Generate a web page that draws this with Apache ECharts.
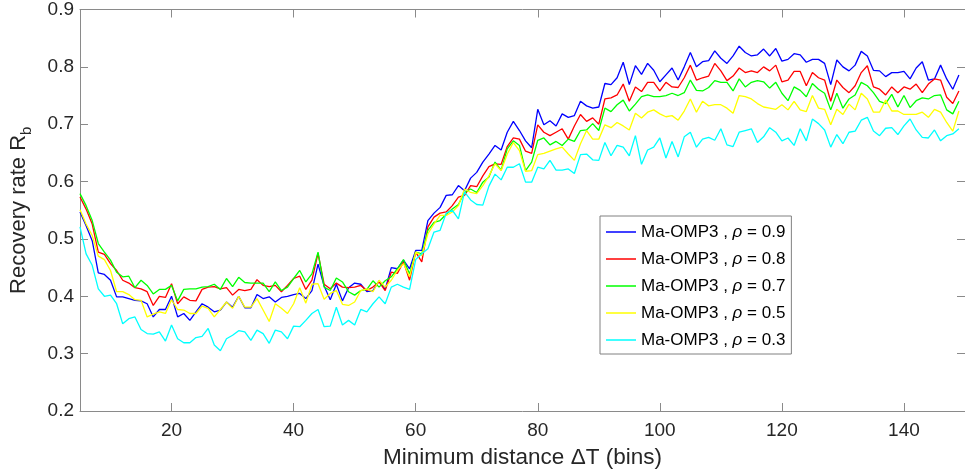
<!DOCTYPE html>
<html>
<head>
<meta charset="utf-8">
<script src="https://cdn.jsdelivr.net/npm/echarts@6/dist/echarts.min.js"></script>
<style>
html,body{margin:0;padding:0;background:#fff;}
#chart{width:965px;height:475px;}
</style>
</head>
<body>
<div id="chart"></div>
<script>
// Minimum distance ΔT (bins)
const xValues = [
  5,6,7,8,9,10,11,12,13,14,
  15,16,17,18,19,20,21,22,23,24,
  25,26,27,28,29,30,31,32,33,34,
  35,36,37,38,39,40,41,42,43,44,
  45,46,47,48,49,50,51,52,53,54,
  55,56,57,58,59,60,61,62,63,64,
  65,66,67,68,69,70,71,72,73,74,
  75,76,77,78,79,80,81,82,83,84,
  85,86,87,88,89,90,91,92,93,94,
  95,96,97,98,99,100,101,102,103,104,
  105,106,107,108,109,110,111,112,113,114,
  115,116,117,118,119,120,121,122,123,124,
  125,126,127,128,129,130,131,132,133,134,
  135,136,137,138,139,140,141,142,143,144,
  145,146,147,148,149
];

const rho09 = [
  0.547,0.523,0.497,0.441,0.438,0.428,0.399,0.399,0.396,0.393,
  0.392,0.387,0.364,0.377,0.377,0.400,0.364,0.370,0.358,0.373,
  0.387,0.381,0.373,0.376,0.390,0.381,0.400,0.380,0.380,0.403,
  0.396,0.399,0.390,0.398,0.400,0.403,0.405,0.396,0.410,0.456,
  0.418,0.394,0.421,0.392,0.415,0.423,0.421,0.408,0.410,0.427,
  0.412,0.450,0.448,0.463,0.448,0.480,0.480,0.532,0.545,0.555,
  0.576,0.577,0.593,0.584,0.606,0.616,0.634,0.648,0.663,0.655,
  0.686,0.705,0.689,0.671,0.659,0.726,0.699,0.706,0.697,0.718,
  0.712,0.715,0.740,0.732,0.728,0.730,0.771,0.769,0.781,0.808,
  0.769,0.802,0.787,0.806,0.794,0.774,0.786,0.798,0.777,0.800,
  0.825,0.800,0.809,0.811,0.828,0.815,0.806,0.819,0.836,0.825,
  0.819,0.821,0.831,0.819,0.832,0.810,0.813,0.823,0.821,0.808,
  0.813,0.813,0.806,0.769,0.812,0.800,0.793,0.803,0.827,0.819,
  0.794,0.793,0.783,0.790,0.790,0.792,0.779,0.798,0.809,0.777,
  0.779,0.803,0.779,0.761,0.786
];

const rho08 = [
  0.573,0.552,0.526,0.477,0.473,0.457,0.445,0.428,0.423,0.415,
  0.413,0.408,0.384,0.400,0.398,0.422,0.387,0.399,0.393,0.392,
  0.412,0.416,0.417,0.413,0.415,0.402,0.412,0.410,0.412,0.429,
  0.419,0.417,0.419,0.408,0.419,0.431,0.435,0.412,0.428,0.475,
  0.421,0.413,0.423,0.416,0.415,0.416,0.419,0.410,0.416,0.425,
  0.410,0.442,0.440,0.460,0.428,0.477,0.460,0.521,0.538,0.545,
  0.547,0.558,0.573,0.576,0.593,0.591,0.610,0.626,0.631,0.630,
  0.661,0.676,0.674,0.653,0.649,0.699,0.686,0.680,0.686,0.692,
  0.674,0.697,0.717,0.705,0.711,0.700,0.744,0.746,0.751,0.770,
  0.740,0.765,0.757,0.773,0.773,0.758,0.773,0.765,0.764,0.781,
  0.803,0.777,0.781,0.784,0.806,0.793,0.776,0.784,0.798,0.790,
  0.793,0.790,0.800,0.793,0.803,0.774,0.777,0.792,0.792,0.767,
  0.790,0.781,0.777,0.740,0.777,0.764,0.755,0.767,0.790,0.802,
  0.765,0.761,0.751,0.765,0.755,0.765,0.761,0.770,0.755,0.770,
  0.779,0.777,0.747,0.736,0.758
];

const rho07 = [
  0.579,0.558,0.532,0.492,0.477,0.463,0.442,0.434,0.435,0.415,
  0.428,0.419,0.404,0.412,0.412,0.419,0.392,0.412,0.413,0.413,
  0.416,0.417,0.421,0.412,0.431,0.417,0.433,0.424,0.423,0.423,
  0.423,0.408,0.425,0.410,0.416,0.431,0.445,0.425,0.439,0.477,
  0.416,0.410,0.432,0.425,0.408,0.402,0.410,0.412,0.427,0.416,
  0.427,0.434,0.448,0.464,0.439,0.477,0.474,0.515,0.529,0.532,
  0.543,0.552,0.560,0.581,0.587,0.581,0.599,0.608,0.634,0.620,
  0.657,0.671,0.663,0.619,0.634,0.672,0.676,0.664,0.670,0.663,
  0.674,0.670,0.689,0.690,0.701,0.689,0.728,0.722,0.734,0.742,
  0.723,0.735,0.748,0.751,0.748,0.748,0.750,0.754,0.750,0.755,
  0.777,0.759,0.758,0.764,0.776,0.773,0.773,0.758,0.779,0.765,
  0.773,0.776,0.774,0.763,0.773,0.754,0.741,0.765,0.759,0.748,
  0.771,0.761,0.754,0.725,0.754,0.728,0.744,0.751,0.773,0.767,
  0.755,0.740,0.736,0.752,0.730,0.750,0.729,0.741,0.746,0.744,
  0.750,0.751,0.725,0.718,0.740
];

const rho05 = [
  0.551,0.526,0.506,0.470,0.464,0.445,0.408,0.408,0.403,0.394,
  0.393,0.364,0.369,0.373,0.370,0.394,0.377,0.376,0.370,0.370,
  0.383,0.379,0.364,0.377,0.390,0.379,0.400,0.381,0.381,0.396,
  0.376,0.356,0.387,0.379,0.370,0.387,0.415,0.388,0.421,0.422,
  0.395,0.405,0.410,0.386,0.384,0.390,0.410,0.413,0.408,0.428,
  0.416,0.428,0.445,0.457,0.434,0.477,0.471,0.509,0.526,0.541,
  0.541,0.547,0.558,0.587,0.581,0.579,0.593,0.610,0.631,0.619,
  0.648,0.668,0.654,0.618,0.619,0.647,0.649,0.653,0.657,0.660,
  0.648,0.637,0.666,0.689,0.674,0.674,0.699,0.694,0.703,0.697,
  0.690,0.719,0.711,0.721,0.725,0.718,0.713,0.715,0.707,0.723,
  0.744,0.721,0.740,0.732,0.734,0.734,0.728,0.719,0.750,0.748,
  0.744,0.736,0.730,0.728,0.726,0.734,0.725,0.740,0.725,0.722,
  0.750,0.728,0.726,0.699,0.726,0.717,0.735,0.725,0.754,0.744,
  0.721,0.721,0.742,0.723,0.723,0.717,0.717,0.717,0.721,0.712,
  0.726,0.721,0.703,0.688,0.723
];

const rho03 = [
  0.521,0.474,0.454,0.413,0.400,0.402,0.387,0.352,0.361,0.364,
  0.342,0.335,0.334,0.338,0.322,0.350,0.326,0.319,0.319,0.328,
  0.330,0.344,0.315,0.305,0.326,0.332,0.340,0.338,0.323,0.341,
  0.335,0.318,0.341,0.338,0.326,0.348,0.347,0.358,0.370,0.377,
  0.347,0.348,0.381,0.350,0.358,0.350,0.377,0.373,0.387,0.399,
  0.387,0.416,0.421,0.416,0.412,0.464,0.474,0.483,0.512,0.515,
  0.545,0.550,0.535,0.582,0.568,0.560,0.559,0.592,0.613,0.603,
  0.625,0.625,0.631,0.599,0.599,0.625,0.622,0.637,0.620,0.620,
  0.622,0.614,0.647,0.648,0.638,0.637,0.668,0.645,0.663,0.660,
  0.645,0.680,0.630,0.655,0.660,0.676,0.641,0.670,0.643,0.678,
  0.686,0.660,0.674,0.677,0.672,0.692,0.664,0.661,0.686,0.689,
  0.692,0.668,0.678,0.694,0.686,0.671,0.676,0.663,0.692,0.671,
  0.709,0.701,0.690,0.660,0.682,0.666,0.686,0.688,0.707,0.712,
  0.688,0.680,0.693,0.694,0.682,0.697,0.709,0.690,0.677,0.676,
  0.690,0.671,0.680,0.683,0.692
];

const seriesNames = [
  'Ma-OMP3 , ρ = 0.9',
  'Ma-OMP3 , ρ = 0.8',
  'Ma-OMP3 , ρ = 0.7',
  'Ma-OMP3 , ρ = 0.5',
  'Ma-OMP3 , ρ = 0.3'
];
const seriesValues = [rho09, rho08, rho07, rho05, rho03];
const seriesColors = ['#0000ff', '#ff0000', '#00ff00', '#ffff00', '#00ffff'];

const xTickValues = [20, 40, 60, 80, 100, 120, 140];
const yTickLabels = ['0.2','0.3','0.4','0.5','0.6','0.7','0.8','0.9'];

const FONT = "'Liberation Sans', Arial, Helvetica, sans-serif";
const AXIS_COLOR = '#8a8a8a';
const TEXT_COLOR = '#262626';

const chart = echarts.init(document.getElementById('chart'), null, {renderer: 'canvas'});

function pairs(vals) {
  return vals.map((v, i) => [xValues[i], v]);
}

const baseX = {
  type: 'value', min: 5, max: 150,
  axisLine: {show: true, onZero: false, lineStyle: {color: AXIS_COLOR, width: 1}},
  axisTick: {show: true, inside: true, length: 8, customValues: xTickValues, lineStyle: {color: AXIS_COLOR}},
  splitLine: {show: false}
};
const baseY = {
  type: 'value', min: 0.2, max: 0.9, interval: 0.1,
  axisLine: {show: true, onZero: false, lineStyle: {color: AXIS_COLOR, width: 1}},
  axisTick: {show: true, inside: true, length: 8, lineStyle: {color: AXIS_COLOR}},
  splitLine: {show: false}
};

const option = {
  animation: false,
  backgroundColor: '#ffffff',
  textStyle: {fontFamily: FONT},
  grid: {left: 76, right: -3, top: 8, bottom: 64, containLabel: false},
  xAxis: [
    Object.assign({}, baseX, {
      position: 'bottom',
      axisLabel: {show: true, customValues: xTickValues, fontSize: 19, color: TEXT_COLOR, margin: 10, fontFamily: FONT},
      name: 'Minimum distance ΔT (bins)',
      nameLocation: 'middle',
      nameGap: 35,
      nameTextStyle: {fontSize: 22.5, color: TEXT_COLOR, fontFamily: FONT}
    }),
    Object.assign({}, baseX, {
      position: 'top',
      axisLabel: {show: false}
    })
  ],
  yAxis: [
    Object.assign({}, baseY, {
      position: 'left',
      axisLabel: {show: true, fontSize: 19, color: TEXT_COLOR, margin: 6, fontFamily: FONT,
        formatter: function (v) { const idx = Math.round((v - 0.2) * 10); return yTickLabels[idx] || ''; }},
      name: '{m|Recovery rate R}{s|b}',
      nameLocation: 'middle',
      nameGap: 46,
      nameRotate: 90,
      nameTextStyle: {
        color: TEXT_COLOR, fontFamily: FONT, fontSize: 22,
        rich: {
          m: {fontSize: 22, color: TEXT_COLOR, fontFamily: FONT, lineHeight: 30, verticalAlign: 'middle'},
          s: {fontSize: 15, color: TEXT_COLOR, fontFamily: FONT, lineHeight: 15, verticalAlign: 'bottom'}
        }
      }
    }),
    Object.assign({}, baseY, {
      position: 'right',
      axisLabel: {show: false}
    })
  ],
  legend: {
    orient: 'vertical',
    left: 600, top: 216,
    padding: [6, 6, 4, 6],
    backgroundColor: '#ffffff',
    borderColor: '#808080',
    borderWidth: 1,
    borderRadius: 0,
    icon: 'rect',
    itemWidth: 30, itemHeight: 1.5, itemGap: 7,
    data: seriesNames,
    formatter: function (name) {
      const parts = name.split('ρ');
      return '{a|' + parts[0] + '}{i|ρ}{a|' + parts[1] + '}';
    },
    textStyle: {
      fontSize: 17, color: '#000', fontFamily: FONT, lineHeight: 20,
      rich: {
        a: {fontSize: 17, color: '#000', fontFamily: FONT, lineHeight: 20},
        i: {fontSize: 17, color: '#000', fontFamily: FONT, fontStyle: 'italic', lineHeight: 20}
      }
    }
  },
  series: seriesNames.map((n, k) => ({
    name: n,
    type: 'line',
    xAxisIndex: 0,
    yAxisIndex: 0,
    data: pairs(seriesValues[k]),
    symbol: 'none',
    showSymbol: false,
    smooth: false,
    lineStyle: {color: seriesColors[k], width: 1.3},
    itemStyle: {color: seriesColors[k]},
    emphasis: {disabled: true},
    clip: true
  }))
};

chart.setOption(option);
</script>
</body>
</html>
